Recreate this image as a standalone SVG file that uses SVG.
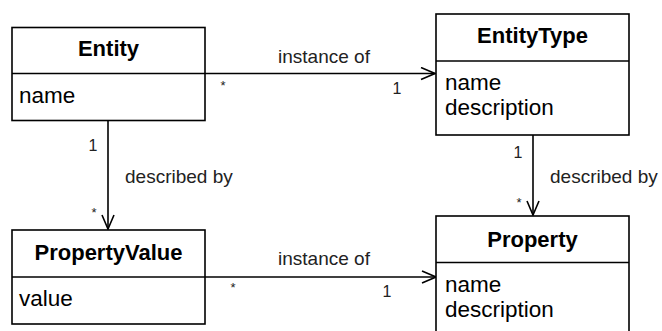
<svg xmlns="http://www.w3.org/2000/svg" width="662" height="331" viewBox="0 0 662 331">
<style>
.box{fill:#fff;stroke:#000;stroke-width:1.6}
.div{stroke:#000;stroke-width:1.6}
.title{font-family:"Liberation Sans",Arial,sans-serif;font-size:22px;font-weight:bold;fill:#000;text-anchor:middle}
.attr{font-family:"Liberation Sans",Arial,sans-serif;font-size:22.5px;fill:#000}
.lbl{font-family:"Liberation Sans",Arial,sans-serif;font-size:19px;fill:#222}
.mult{font-family:"Liberation Sans",Arial,sans-serif;font-size:16px;fill:#222;text-anchor:middle}
.star{font-family:"Liberation Sans",Arial,sans-serif;font-size:13px;fill:#222;text-anchor:middle}
.conn{stroke:#000;stroke-width:1.6;fill:none}
</style>
<defs>
<marker id="open" viewBox="0 0 16 14" refX="15" refY="7" markerWidth="16" markerHeight="14" markerUnits="userSpaceOnUse" orient="auto">
<path d="M1,1 L15,7 L1,13" fill="none" stroke="#000" stroke-width="1.6"/>
</marker>
</defs>
<rect width="662" height="331" fill="#fff"/>
<g id="connectors">
<line class="conn" x1="205" y1="73.5" x2="435" y2="73.5" marker-end="url(#open)"/>
<line class="conn" x1="205" y1="277" x2="436" y2="277" marker-end="url(#open)"/>
<line class="conn" x1="108" y1="121" x2="108" y2="229" marker-end="url(#open)"/>
<line class="conn" x1="533" y1="135" x2="533" y2="215" marker-end="url(#open)"/>
<text class="lbl" x="324" y="63" text-anchor="middle">instance of</text>
<text class="star" x="223" y="90">*</text>
<text class="mult" x="397" y="94">1</text>
<text class="lbl" x="324" y="265" text-anchor="middle">instance of</text>
<text class="star" x="233" y="292">*</text>
<text class="mult" x="387" y="297">1</text>
<text class="mult" x="93" y="151">1</text>
<text class="lbl" x="125" y="183">described by</text>
<text class="star" x="94" y="217">*</text>
<text class="mult" x="518" y="158">1</text>
<text class="lbl" x="550" y="183">described by</text>
<text class="star" x="519" y="207">*</text>
</g>
<g id="entity">
<rect class="box" x="12" y="27.5" width="193" height="93"/>
<line class="div" x1="12" y1="73.5" x2="205" y2="73.5"/>
<text class="title" x="108.5" y="56">Entity</text>
<text class="attr" x="19" y="103">name</text>
</g>
<g id="entitytype">
<rect class="box" x="436" y="14" width="193" height="121"/>
<line class="div" x1="436" y1="61" x2="629" y2="61"/>
<text class="title" x="532.5" y="43">EntityType</text>
<text class="attr" x="445" y="90">name</text>
<text class="attr" x="445" y="115">description</text>
</g>
<g id="propertyvalue">
<rect class="box" x="12" y="230" width="193" height="94"/>
<line class="div" x1="12" y1="277" x2="205" y2="277"/>
<text class="title" x="108.5" y="260">PropertyValue</text>
<text class="attr" x="19" y="306">value</text>
</g>
<g id="property">
<rect class="box" x="436" y="216" width="193" height="120"/>
<line class="div" x1="436" y1="262.5" x2="629" y2="262.5"/>
<text class="title" x="532.5" y="247">Property</text>
<text class="attr" x="445" y="292">name</text>
<text class="attr" x="445" y="317">description</text>
</g>
</svg>
